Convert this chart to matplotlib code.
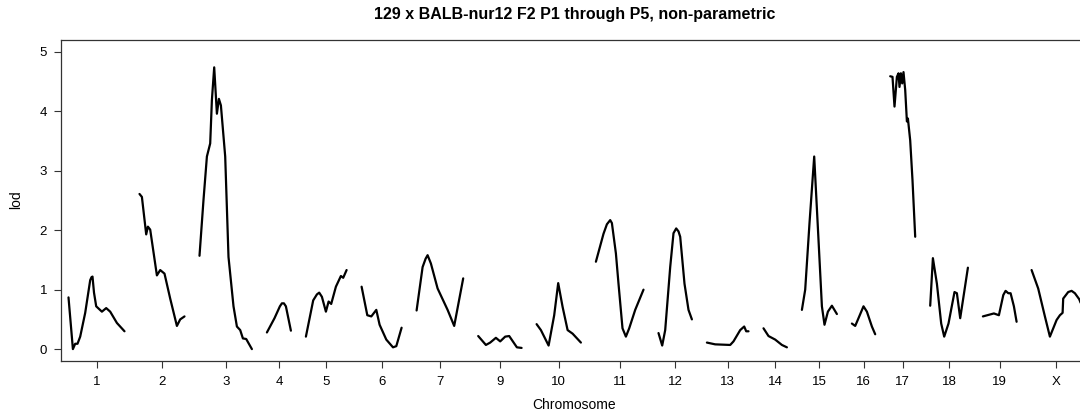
import matplotlib
matplotlib.use('Agg')
import matplotlib.pyplot as plt
import numpy as np

plt.rcParams['font.family'] = ['Liberation Sans', 'DejaVu Sans']

# LOD scan per chromosome: positions (cM from chromosome start) and lod scores
chromosomes = ['1', '2', '3', '4', '5', '6', '7', '9', '10', '11',
               '12', '13', '14', '15', '16', '17', '18', '19', 'X']

positions = [
    [0, 4.4, 6.7, 9, 11.7, 16.7, 21.7, 23, 24, 25.5, 27.7, 33.4, 37.7, 41.7, 48.4, 56],
    [0, 2.4, 6.7, 8.4, 10.7, 17.4, 20.7, 25, 30.7, 37.4, 40.7, 45],
    [0, 4, 7.4, 10.7, 12.4, 14.7, 17.4, 19.4, 21.4, 25.7, 29, 34, 37.4, 40.7, 43.4, 46.7, 52.4],
    [0, 7.6, 13, 15, 17, 19, 24],
    [0, 7.3, 11, 13.3, 16, 20, 22.7, 25.3, 30, 35, 37.3, 40.7],
    [0, 5.7, 9.7, 14.7, 18, 24.7, 31.4, 34.7, 40],
    [0, 6, 9, 11, 14.3, 21, 31, 37.6, 46.6],
    [0, 7.7, 12, 17.7, 22, 27, 31, 38.7, 43.4],
    [0, 4.3, 12, 17.6, 21.6, 26, 31, 36, 44.3],
    [0, 7.6, 11, 14.3, 16, 20, 22.6, 26.6, 30, 33.3, 39.3, 47.6],
    [0, 3.7, 6.7, 11.7, 15, 17.7, 20, 21.7, 26, 30, 33.4],
    [0, 8.3, 23.3, 26.6, 33.3, 37.3, 39.3, 41.6],
    [0, 5, 11.7, 18.4, 23.4],
    [0, 3.3, 7.6, 12.3, 16.6, 20, 22.6, 26, 30, 35],
    [0, 3.3, 6.6, 11.6, 15, 20, 23.3],
    [0, 2.3, 4.3, 6.7, 8.3, 9.3, 10.7, 12, 13.3, 15, 16.7, 17.7, 20, 22.3, 25],
    [0, 2.7, 6.7, 11, 14, 18.3, 24.3, 26.7, 30, 34, 37.7],
    [0, 4.4, 11, 16, 20.4, 22.7, 25.4, 27.7, 31, 33.7],
    [0, 6.6, 13.3, 18.3, 25, 28.3, 31, 31.6, 36.6, 40, 43.3, 47.6, 49],
]

lods = [
    [0.87, 0.0, 0.09, 0.09, 0.21, 0.61, 1.16, 1.21, 1.22, 0.95, 0.72, 0.63, 0.69, 0.63, 0.44, 0.30],
    [2.61, 2.56, 1.93, 2.06, 2.01, 1.24, 1.33, 1.27, 0.85, 0.39, 0.50, 0.55],
    [1.57, 2.51, 3.24, 3.46, 4.19, 4.74, 3.96, 4.21, 4.10, 3.24, 1.55, 0.72, 0.38, 0.32, 0.18, 0.17, 0.0],
    [0.28, 0.52, 0.72, 0.77, 0.77, 0.72, 0.31],
    [0.21, 0.82, 0.92, 0.95, 0.88, 0.63, 0.80, 0.76, 1.05, 1.23, 1.20, 1.33],
    [1.05, 0.57, 0.55, 0.66, 0.41, 0.16, 0.03, 0.05, 0.36],
    [0.65, 1.38, 1.52, 1.58, 1.44, 1.02, 0.66, 0.39, 1.19],
    [0.22, 0.07, 0.11, 0.19, 0.13, 0.21, 0.22, 0.03, 0.02],
    [0.42, 0.32, 0.06, 0.57, 1.11, 0.71, 0.32, 0.26, 0.11],
    [1.47, 1.94, 2.10, 2.17, 2.12, 1.61, 1.10, 0.35, 0.21, 0.35, 0.66, 1.00],
    [0.27, 0.06, 0.32, 1.38, 1.95, 2.03, 1.98, 1.89, 1.10, 0.66, 0.50],
    [0.11, 0.08, 0.07, 0.13, 0.32, 0.38, 0.30, 0.30],
    [0.35, 0.22, 0.16, 0.07, 0.03],
    [0.66, 1.0, 2.12, 3.24, 1.84, 0.72, 0.41, 0.63, 0.73, 0.59],
    [0.43, 0.39, 0.52, 0.72, 0.63, 0.38, 0.25],
    [4.59, 4.58, 4.08, 4.58, 4.64, 4.41, 4.64, 4.47, 4.66, 4.36, 3.83, 3.88, 3.51, 2.84, 1.89],
    [0.73, 1.53, 1.10, 0.43, 0.21, 0.43, 0.96, 0.94, 0.52, 0.96, 1.37],
    [0.55, 0.57, 0.60, 0.57, 0.91, 0.98, 0.94, 0.94, 0.72, 0.46],
    [1.33, 1.02, 0.55, 0.21, 0.49, 0.57, 0.61, 0.85, 0.96, 0.98, 0.94, 0.84, 0.78],
]

gap = 15

# cumulative offsets of each chromosome along the genome axis
offsets = []
cur = 0
for p in positions:
    offsets.append(cur)
    cur += p[-1] + gap
total = cur - gap
mids = [off + p[-1] / 2 for off, p in zip(offsets, positions)]

W, H = 1080, 419
fig = plt.figure(figsize=(W / 100, H / 100), dpi=100)
left_px, top_px, bot_px = 61, 40, 361
span = total + gap
ax = fig.add_axes([left_px / W, 1 - bot_px / H, span / W, (bot_px - top_px) / H])

for off, p, l in zip(offsets, positions, lods):
    ax.plot(np.array(p) + off, l, color='black', linewidth=1.6,
            solid_capstyle='round', solid_joinstyle='round')

ax.set_xlim(-gap / 2, total + gap / 2)
ax.set_ylim(-0.2, 5.2)
ax.set_yticks([0, 1, 2, 3, 4, 5])
ax.set_xticks(mids)
ax.set_xticklabels(chromosomes)

for s in ax.spines.values():
    s.set_color('#333333')
    s.set_linewidth(0.9)
ax.tick_params(axis='both', length=5, width=0.8, color='#333333', labelsize=9.5)
ax.tick_params(axis='x', pad=6)
ax.tick_params(axis='y', pad=5)

ax.set_xlabel('Chromosome', fontsize=10, labelpad=7)
fig.text(16 / W, 1 - 200 / H, 'lod', rotation=90, ha='center', va='center', fontsize=10)
fig.text((left_px + span / 2) / W, 1 - 15 / H,
         '129 x BALB-nur12 F2 P1 through P5, non-parametric',
         ha='center', va='center', fontsize=11.5, fontweight='bold')

plt.savefig('out.png', dpi=100)
plt.close()
